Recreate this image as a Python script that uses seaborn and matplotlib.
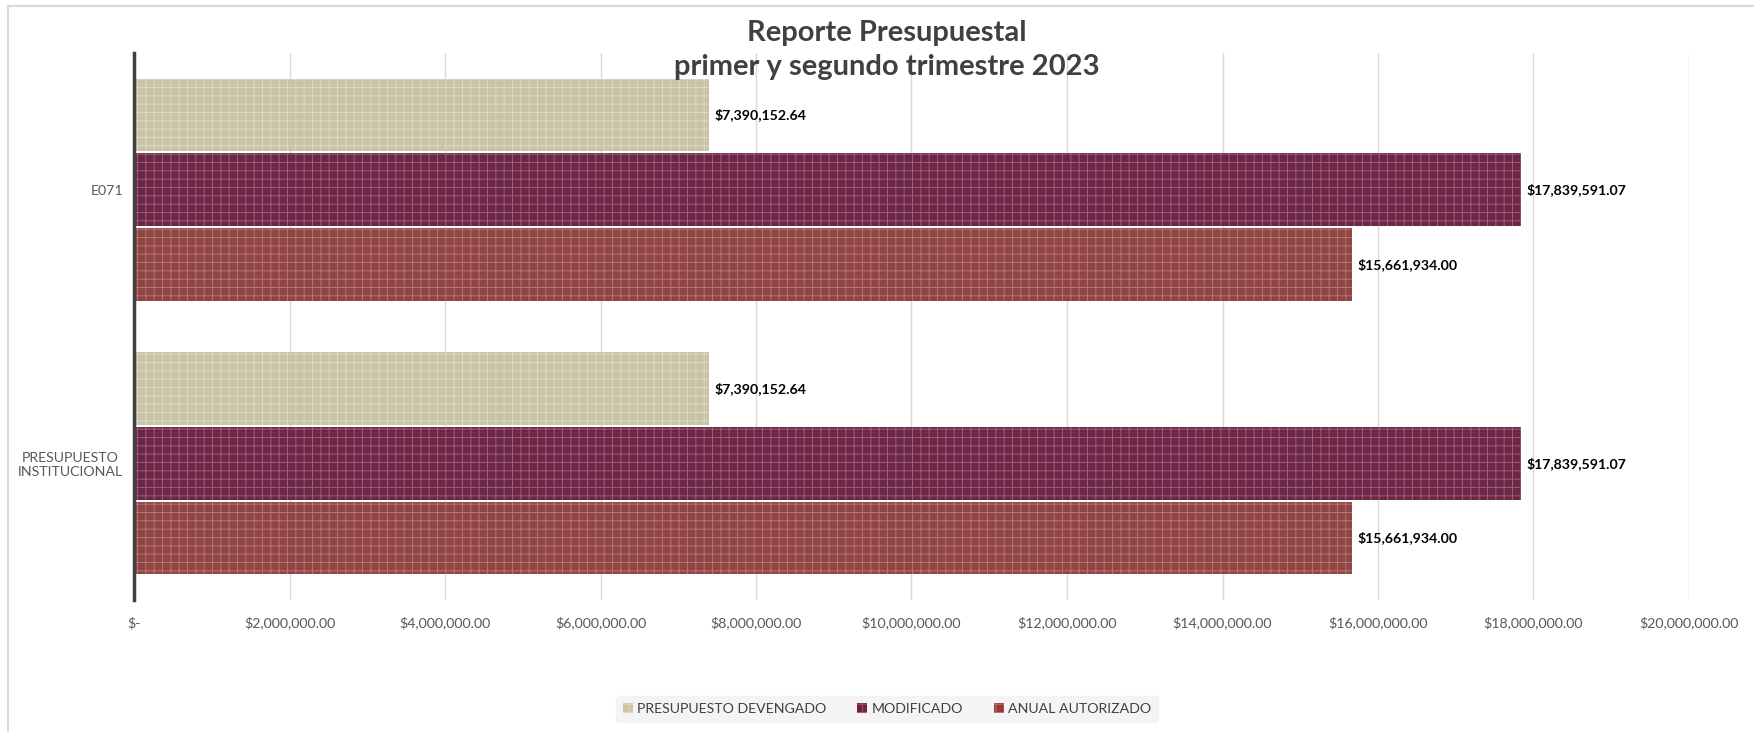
import matplotlib
matplotlib.use("Agg")
import matplotlib.pyplot as plt
import seaborn as sns
import pandas as pd
from matplotlib.patches import Rectangle
from matplotlib.ticker import FuncFormatter, MultipleLocator

categories = ["E071", "PRESUPUESTO\nINSTITUCIONAL"]
series_names = ["PRESUPUESTO DEVENGADO", "MODIFICADO", "ANUAL AUTORIZADO"]
devengado = [7390152.64, 7390152.64]
modificado = [17839591.07, 17839591.07]
anual_autorizado = [15661934.00, 15661934.00]

title = "Reporte Presupuestal\nprimer y segundo trimestre 2023"

sns.set_theme(style="white")
plt.rcParams['font.family'] = ['Lato', 'DejaVu Sans']
plt.rcParams['hatch.linewidth'] = 0.7

rows = []
for name, vals in zip(series_names, [devengado, modificado, anual_autorizado]):
    for c, v in zip(categories, vals):
        rows.append({"categoria": c, "serie": name, "valor": v})
df = pd.DataFrame(rows)

base_colors = ["#CCC5A3", "#741E45", "#973A39"]
hatch_colors = ["#DDD8BE", "#A65878", "#C0716B"]

fig = plt.figure(figsize=(17.54, 7.32), dpi=100)
ax = fig.add_axes([134/1754, 1 - 600/732, (1689 - 134)/1754, (600 - 53)/732])

sns.barplot(data=df, y="categoria", x="valor", hue="serie", order=categories,
            hue_order=series_names, palette=base_colors, orient="h",
            width=0.82, gap=0.03, ax=ax, legend=False)

for cont, hc in zip(ax.containers, hatch_colors):
    for p in cont:
        p.set_hatch("++")
        p.set_edgecolor(hc)
        p.set_linewidth(0)
    ax.bar_label(cont, labels=[f"${v:,.2f}" for v in cont.datavalues], padding=4,
                 fontsize=10.2, fontweight="bold", color="black")

ax.set_xlim(0, 20000000)
ax.set_ylim(1.5, -0.5)
ax.xaxis.set_major_locator(MultipleLocator(2000000))
ax.xaxis.set_major_formatter(FuncFormatter(lambda v, p: "$-" if v == 0 else f"${v:,.2f}"))
ax.grid(axis="x", color="#D9D9D9", linewidth=1)
ax.set_axisbelow(True)
ax.tick_params(axis="x", length=0, pad=12, labelsize=10.2, labelcolor="#595959")
ax.tick_params(axis="y", length=0, pad=8, labelsize=10.2, labelcolor="#595959")
for t in ax.get_yticklabels():
    t.set_multialignment("center")
ax.set_xlabel("")
ax.set_ylabel("")
for s in ["top", "right", "bottom"]:
    ax.spines[s].set_visible(False)
ax.spines["left"].set_color("#404040")
ax.spines["left"].set_linewidth(2.5)

fig.text(887/1754, 1 - 50/732, title, ha="center", va="center", fontsize=21,
         fontweight="bold", color="#404040", linespacing=1.4)

handles = []
for bc, hc, name in zip(base_colors, hatch_colors, series_names):
    r = Rectangle((0, 0), 1, 1, facecolor=bc, edgecolor=hc, hatch="++", linewidth=0)
    handles.append(r)
leg = fig.legend(handles, series_names, loc="center", bbox_to_anchor=(887/1754, 1 - 709/732),
                 ncol=3, frameon=True, fontsize=10.2, handlelength=0.7, handleheight=0.7,
                 handletextpad=0.3, columnspacing=2.2, borderpad=0.5)
leg.get_frame().set_facecolor("#F2F2F2")
leg.get_frame().set_edgecolor("#F2F2F2")
for t in leg.get_texts():
    t.set_color("#404040")

# chart area border (top and left)
fig.add_artist(plt.Line2D([8/1754, 1], [1 - 6/732, 1 - 6/732], transform=fig.transFigure,
                          color="#D9D9D9", linewidth=1.5))
fig.add_artist(plt.Line2D([8/1754, 8/1754], [0, 1 - 6/732], transform=fig.transFigure,
                          color="#D9D9D9", linewidth=1.5))

fig.savefig("out.png", dpi=100, facecolor="white")
